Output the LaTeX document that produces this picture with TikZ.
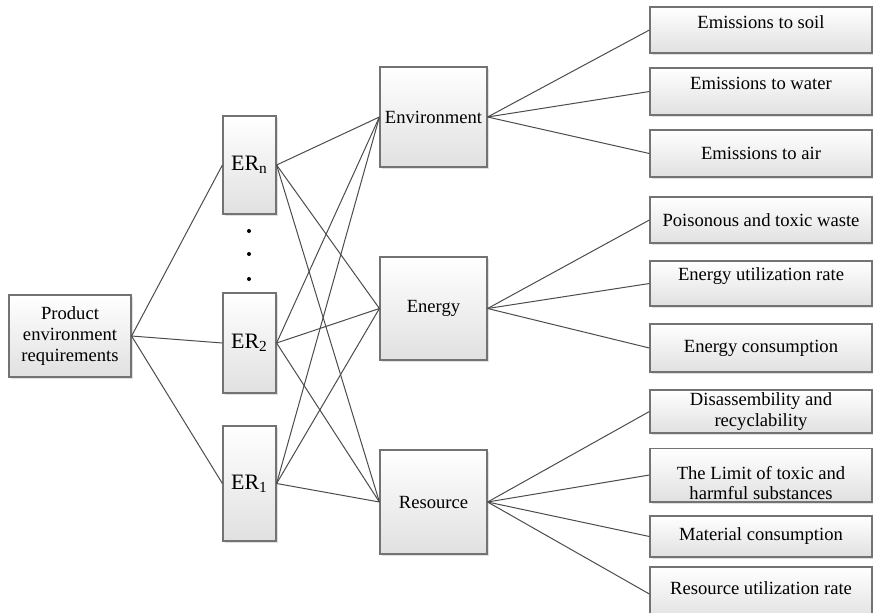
\documentclass[tikz,border=0pt]{standalone}
\usepackage{fontspec}
\setmainfont{Liberation Serif}
\usepackage{tikz}
\usetikzlibrary{shadows}

\tikzset{
  box/.style={draw=black!55, line width=0.6pt, top color=white, bottom color=black!12,
    drop shadow={shadow xshift=0.8pt, shadow yshift=-0.8pt, fill=black!35, opacity=0.35},
    inner sep=1pt, align=center, font=\fontsize{9.3}{10.3}\selectfont},
  erbox/.style={box, minimum width=26.5pt, minimum height=#1, font=\fontsize{11}{12}\selectfont},
  aspbox/.style={box, minimum width=53.5pt, minimum height=#1},
  leafbox/.style={box, minimum width=111pt, minimum height=#1},
  link/.style={draw=black!70, line width=0.5pt}
}

\begin{document}
\begin{tikzpicture}[x=0.5pt, y=-0.5pt]
     \clip (0, 0) rectangle (873, 612);
     \node [box, minimum width=61pt, minimum height=41pt] (prod) at (70, 336)
       {Product\\environment\\requirements};
     \node [erbox=49pt] (ern) at (249.5, 165) {ER\textsubscript{n}};
     \node [erbox=50pt] (er2) at (249.5, 343) {ER\textsubscript{2}};
     \node [erbox=57.5pt] (er1) at (249.5, 483.5) {ER\textsubscript{1}};
     \fill [black] (249, 231) circle [radius=1pt];
     \fill [black] (249, 254) circle [radius=1pt];
     \fill [black] (249, 279) circle [radius=1pt];
     \node [aspbox=50pt] (env) at (433.5, 117) {Environment};
     \node [aspbox=51.5pt] (eng) at (433.5, 308.5) {Energy};
     \node [aspbox=52pt] (res) at (433.5, 502) {Resource};
     \node [leafbox=23pt, text depth=8pt] (soil) at (761, 30) {Emissions to soil};
     \node [leafbox=23.5pt, text depth=8pt] (water) at (761, 91.5) {Emissions to water};
     \node [leafbox=23.5pt] (air) at (761, 153.5) {Emissions to air};
     \node [leafbox=23pt] (waste) at (761, 220) {Poisonous and toxic waste};
     \node [leafbox=22.5pt, text depth=9pt] (eur) at (761, 283.5) {Energy utilization rate};
     \node [leafbox=24pt] (ecn) at (761, 348) {Energy consumption};
     \node [leafbox=21.5pt] (dis) at (761, 411.5) {Disassembility and\\recyclability};
     \node [leafbox=25pt] (lim) at (761, 475) {\rule{0pt}{14.5pt}The Limit of toxic and\\harmful substances};
     \node [leafbox=20.5pt] (mat) at (761, 536.5) {Material consumption};
     \node [leafbox=27pt, text depth=6pt] (rur) at (761, 594) {Resource utilization rate};
     \draw [link] (prod.east) -- (ern.west);
     \draw [link] (prod.east) -- (er2.west);
     \draw [link] (prod.east) -- (er1.west);
     \draw [link] (ern.east) -- (env.west);
     \draw [link] (ern.east) -- (eng.west);
     \draw [link] (ern.east) -- (res.west);
     \draw [link] (er2.east) -- (env.west);
     \draw [link] (er2.east) -- (eng.west);
     \draw [link] (er2.east) -- (res.west);
     \draw [link] (er1.east) -- (env.west);
     \draw [link] (er1.east) -- (eng.west);
     \draw [link] (er1.east) -- (res.west);
     \draw [link] (env.east) -- (soil.west);
     \draw [link] (env.east) -- (water.west);
     \draw [link] (env.east) -- (air.west);
     \draw [link] (eng.east) -- (waste.west);
     \draw [link] (eng.east) -- (eur.west);
     \draw [link] (eng.east) -- (ecn.west);
     \draw [link] (res.east) -- (dis.west);
     \draw [link] (res.east) -- (lim.west);
     \draw [link] (res.east) -- (mat.west);
     \draw [link] (res.east) -- (rur.west);
    \end{tikzpicture}
\end{document}
